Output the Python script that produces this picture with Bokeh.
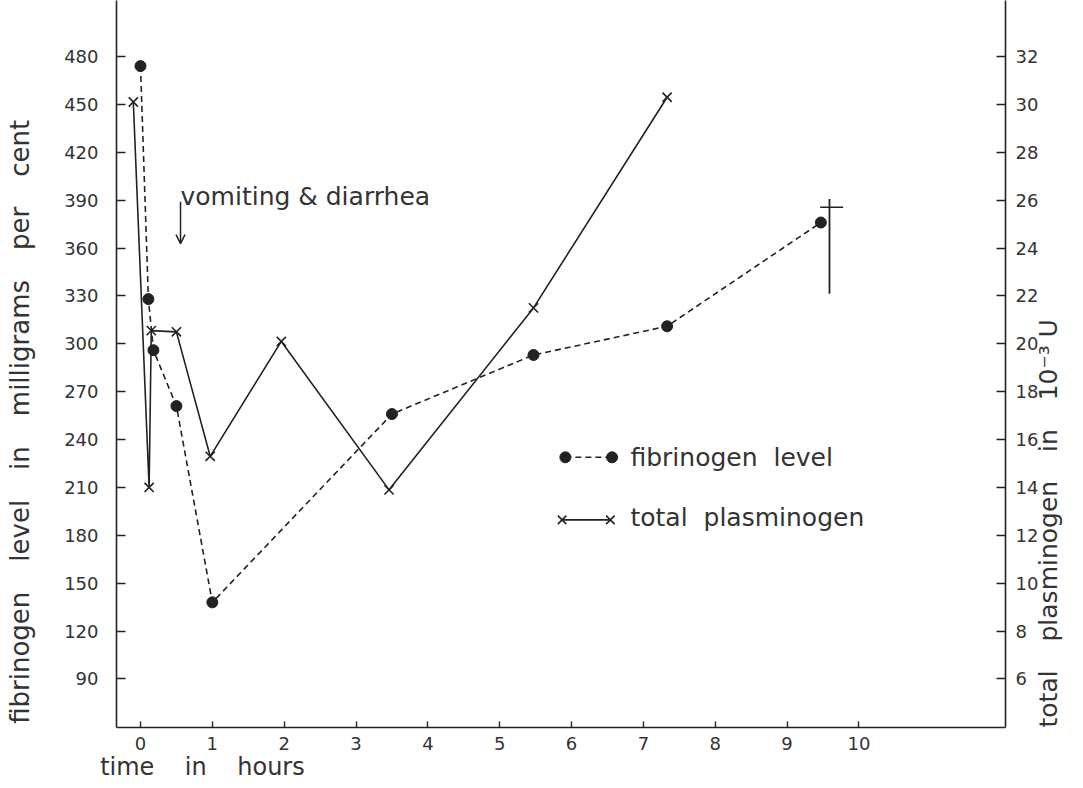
import math
from bokeh.plotting import figure
from bokeh.models import Range1d, LinearAxis, FixedTicker, Label, Arrow, OpenHead
from bokeh.embed import file_html
from bokeh.resources import INLINE

# ---- data ----
time_ticks = [0, 1, 2, 3, 4, 5, 6, 7, 8, 9, 10]
fib_ticks = [90, 120, 150, 180, 210, 240, 270, 300, 330, 360, 390, 420, 450, 480]
pla_ticks = [6, 8, 10, 12, 14, 16, 18, 20, 22, 24, 26, 28, 30, 32]

fib_hours = [0.0, 0.11, 0.18, 0.5, 1.0, 3.5, 5.47, 7.33, 9.47]
fib_mg = [474, 328, 296, 261, 138, 256, 293, 311, 376]

pla_hours = [-0.1, 0.12, 0.15, 0.5, 0.97, 1.96, 3.46, 5.47, 7.33]
pla_units = [30.1, 14.0, 20.55, 20.5, 15.3, 20.1, 13.9, 21.5, 30.3]

# death cross marker near the last fibrinogen value
cross_x = 9.59
cross_y = [331.3, 390.8]
cross_bar_x = [9.46, 9.78]
cross_bar_y = 385.6

INK = "#222222"
TXT = "#333333"
FONT = "DejaVu Sans"
NB = "\u00a0"
GAP = NB * 3 + "\u2009"

Y0, Y1 = 59.6, 515.1
p = figure(width=1080, height=786, output_backend="svg", toolbar_location=None,
           x_range=Range1d(-0.334, 12.04), y_range=Range1d(Y0, Y1),
           min_border_left=116, min_border_right=75, min_border_top=0,
           min_border_bottom=59)
p.extra_y_ranges = {"pla": Range1d(Y0 / 15.0, Y1 / 15.0)}
p.outline_line_color = None
p.grid.visible = False

right_axis = LinearAxis(y_range_name="pla")
p.add_layout(right_axis, "right")

p.xaxis.ticker = FixedTicker(ticks=time_ticks)
p.yaxis[0].ticker = FixedTicker(ticks=fib_ticks)
right_axis.ticker = FixedTicker(ticks=pla_ticks)

for ax in [p.xaxis[0], p.yaxis[0], right_axis]:
    ax.axis_line_color = INK
    ax.axis_line_width = 1.6
    ax.major_tick_line_color = INK
    ax.major_tick_line_width = 1.4
    ax.major_tick_out = 0
    ax.major_tick_in = 9
    ax.minor_tick_in = 0
    ax.minor_tick_out = 0
    ax.major_label_text_font = FONT
    ax.major_label_text_font_size = "18px"
    ax.major_label_text_color = TXT
    ax.axis_label_text_font = FONT
    ax.axis_label_text_font_style = "normal"
    ax.axis_label_text_color = TXT
p.xaxis[0].major_tick_in = 6
p.xaxis[0].major_label_standoff = 9
p.yaxis[0].major_label_standoff = 18
right_axis.major_label_standoff = 10

# axis titles (padding with no-break spaces places them as in the reference)
p.xaxis[0].axis_label = "time" + NB * 4 + "in" + NB * 4 + "hours" + NB * 94
p.xaxis[0].axis_label_text_font_size = "24px"
p.xaxis[0].axis_label_standoff = 0

p.yaxis[0].axis_label = GAP.join(["fibrinogen", "level", "in", "milligrams", "per", "cent"]) + NB * 14
p.yaxis[0].axis_label_text_font_size = "26px"
p.yaxis[0].axis_label_standoff = 26

right_text = GAP.join(["total", "plasminogen", "in", "10\u207b\u00b3" + NB + "U"])
right_axis.axis_label_text_font_size = "25px"
right_axis.axis_label_standoff = 7
try:
    right_axis.axis_label_orientation = math.pi / 2
except AttributeError:
    pass
try:
    right_axis.axis_label_align = "start"
except AttributeError:
    pass
right_axis.axis_label = right_text

# fibrinogen: dashed line with dots
p.line(fib_hours, fib_mg, line_color=INK, line_width=1.6, line_dash="6 4")
p.scatter(fib_hours, fib_mg, marker="circle", size=11, fill_color=INK, line_color=INK)

# plasminogen: solid line with x markers (right axis)
p.line(pla_hours, pla_units, y_range_name="pla", line_color=INK, line_width=1.6)
p.scatter(pla_hours, pla_units, y_range_name="pla", marker="x", size=13,
          line_color=INK, line_width=1.6)

# death cross
p.line([cross_x, cross_x], cross_y, line_color=INK, line_width=1.8)
p.line(cross_bar_x, [cross_bar_y, cross_bar_y], line_color=INK, line_width=1.6)

# annotation: vomiting & diarrhea
p.add_layout(Label(x=0.557, y=392.3, text="vomiting & diarrhea", text_font=FONT,
                   text_font_size="25px", text_color=TXT,
                   text_align="left", text_baseline="alphabetic"))
p.add_layout(Arrow(x_start=0.557, y_start=389.0, x_end=0.557, y_end=362.8,
                   line_color=INK, line_width=1.5,
                   end=OpenHead(size=9, line_color=INK, line_width=1.5)))

# legend drawn by hand
leg_fib_x = [5.914, 6.564]
leg_fib_y = [228.9, 228.9]
leg_pla_x = [5.868, 6.540]
leg_pla_y = [189.7, 189.7]
p.line(leg_fib_x, leg_fib_y, line_color=INK, line_width=1.6, line_dash="6 4")
p.scatter(leg_fib_x, leg_fib_y, marker="circle", size=11, fill_color=INK, line_color=INK)
p.line(leg_pla_x, leg_pla_y, line_color=INK, line_width=1.6)
p.scatter(leg_pla_x, leg_pla_y, marker="x", size=12, line_color=INK, line_width=1.6)
p.add_layout(Label(x=6.82, y=228.9, text="fibrinogen" + NB * 2 + "level", text_font=FONT,
                   text_font_size="25px", text_color=TXT,
                   text_align="left", text_baseline="middle"))
p.add_layout(Label(x=6.82, y=191.0, text="total" + NB * 2 + "plasminogen", text_font=FONT,
                   text_font_size="25px", text_color=TXT,
                   text_align="left", text_baseline="middle"))

open("out.html", "w").write(file_html(p, INLINE))
